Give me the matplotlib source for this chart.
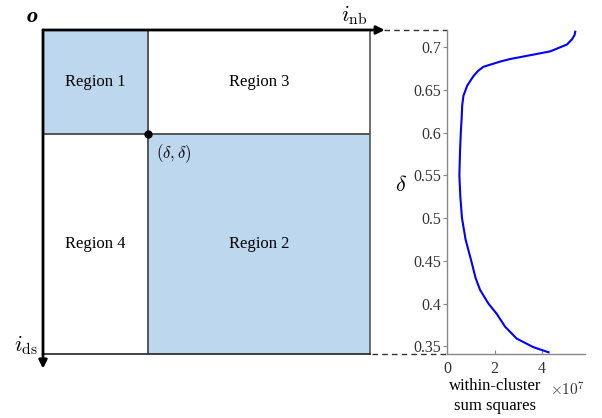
import numpy as np
import matplotlib
matplotlib.use('Agg')
import matplotlib.pyplot as plt
from matplotlib.patches import Rectangle

plt.rcParams['font.family'] = ['Liberation Serif', 'DejaVu Serif']
plt.rcParams['mathtext.fontset'] = 'cm'

# region split (normalised index space) and region names
delta = 0.32
region_names = ['Region 1', 'Region 2', 'Region 3', 'Region 4']

# within-cluster sum of squares (x1e7) vs delta
wcss = [4.27, 3.63, 2.93, 2.44, 2.09, 1.74, 1.39, 1.20, 1.02, 0.78, 0.63,
        0.56, 0.52, 0.55, 0.58, 0.62, 0.64, 0.69, 0.85, 1.11, 1.30, 1.53,
        2.23, 2.65, 4.34, 5.04, 5.25, 5.36, 5.39]
deltas = [0.343, 0.349, 0.359, 0.373, 0.388, 0.400, 0.416, 0.430, 0.450,
          0.475, 0.500, 0.525, 0.550, 0.580, 0.600, 0.619, 0.632, 0.643,
          0.655, 0.666, 0.672, 0.677, 0.683, 0.686, 0.695, 0.703, 0.709,
          0.714, 0.718]
yticks = [0.35, 0.4, 0.45, 0.5, 0.55, 0.6, 0.65, 0.7]
xticks = [0, 2, 4]

blue = '#bdd7ee'
grey = '#555555'

fig = plt.figure(figsize=(6.02, 4.18), dpi=100)

# ---- left: index space split into four regions
ax = fig.add_axes([43/602, 1-354/418, 327/602, 324/418])
ax.set_xlim(0, 1)
ax.set_ylim(1, 0)
ax.axis('off')

ax.add_patch(Rectangle((0, 0), delta, delta, fc=blue, ec='none'))
ax.add_patch(Rectangle((delta, delta), 1-delta, 1-delta, fc=blue, ec='none'))
ax.plot([delta, delta], [0, 1], color=grey, lw=1.4)
ax.plot([0, 1], [delta, delta], color=grey, lw=1.4)
ax.plot([1, 1], [0, 1], color=grey, lw=1.2, clip_on=False)
ax.plot([0, 1], [1, 1], color='#222222', lw=1.2, clip_on=False)
ax.plot(delta, delta, 'o', color='k', ms=5, clip_on=False)

kw = dict(ha='center', va='center', fontsize=12)
ax.text(delta/2, delta/2, region_names[0], **kw)
ax.text((1+delta)/2, (1+delta)/2, region_names[1], **kw)
ax.text((1+delta)/2, delta/2, region_names[2], **kw)
ax.text(delta/2, (1+delta)/2, region_names[3], **kw)
ax.text(delta+0.025, delta+0.063, r'$(\delta,\delta)$', fontsize=12,
        ha='left', va='center')

# axes arrows
ax.annotate('', xy=(1.045, 0), xytext=(0, 0),
            arrowprops=dict(arrowstyle='-|>', color='k', lw=2,
                            mutation_scale=12, shrinkA=0, shrinkB=0),
            annotation_clip=False)
ax.annotate('', xy=(0, 1.045), xytext=(0, 0),
            arrowprops=dict(arrowstyle='-|>', color='k', lw=2,
                            mutation_scale=12, shrinkA=0, shrinkB=0),
            annotation_clip=False)
ax.text(-0.015, -0.01, 'o', fontsize=16, style='italic', weight='bold',
        ha='right', va='bottom')
ax.text(0.991, -0.009, r'$i_{\rm nb}$', fontsize=16, ha='right', va='bottom')
ax.text(-0.015, 1.009, r'$i_{\rm ds}$', fontsize=16, ha='right', va='bottom')

# ---- right: sum of squares curve
ax2 = fig.add_axes([447/602, 1-354/418, 138/602, 324/418])
ax2.plot(wcss, deltas, color='#0000ff', lw=1.5)
ax2.set_xlim(0, 5.8)
ax2.set_ylim(0.341, 0.72)
ax2.set_yticks(yticks)
ax2.set_yticklabels([f'{v:g}' for v in yticks])
ax2.set_xticks(xticks)
for s in ['top', 'right']:
    ax2.spines[s].set_visible(False)
for s in ['left', 'bottom']:
    ax2.spines[s].set_color('#888888')
    ax2.spines[s].set_linewidth(1)
ax2.tick_params(axis='y', direction='out', length=3, color='#888888',
                labelsize=11.5, labelcolor='#333333', pad=1)
ax2.tick_params(axis='x', direction='in', length=3, color='#888888',
                labelsize=11.5, labelcolor='#333333', pad=5)
ax2.set_ylabel(r'$\delta$', fontsize=16, rotation=0, va='center',
               ha='center')
ax2.yaxis.set_label_coords(-0.33, 0.52)
ax2.text(0.35, -0.074, 'within-cluster\nsum squares', fontsize=12,
         transform=ax2.transAxes, ha='center', va='top', linespacing=1.35)
ax2.text(1.0, -0.082, r'$\times 10^7$', transform=ax2.transAxes,
         fontsize=11, ha='right', va='top', color='#333333')

# dashed guides to the square
yt = ax2.get_yaxis_transform()
ax2.plot([-0.46, 0], [0.72, 0.72], ls=(0, (4, 3)), color='#333333', lw=1,
         transform=yt, clip_on=False)
ax2.plot([-0.54, 0], [0.341, 0.341], ls=(0, (4, 3)), color='#333333', lw=1,
         transform=yt, clip_on=False)

fig.savefig('out.png', dpi=100)
